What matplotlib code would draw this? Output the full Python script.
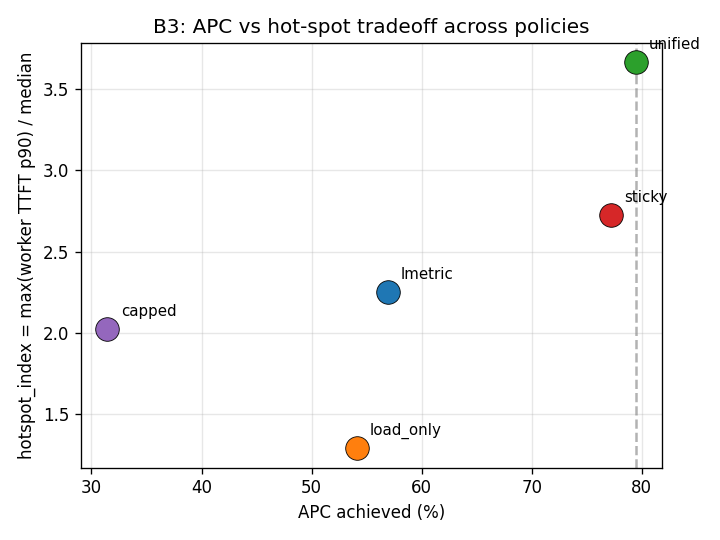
import matplotlib
matplotlib.use("Agg")
import matplotlib.pyplot as plt

policies = ["lmetric", "load_only", "unified", "sticky", "capped"]
apc = [56.9, 54.1, 79.45, 77.2, 31.45]
hotspot = [2.25, 1.29, 3.665, 2.725, 2.023]
colors = ["tab:blue", "tab:orange", "tab:green", "tab:red", "tab:purple"]

fig, ax = plt.subplots(figsize=(6, 4.5), dpi=120)
for name, x, y, c in zip(policies, apc, hotspot, colors):
    ax.scatter(x, y, s=200, color=c, edgecolor="black", linewidth=0.5, zorder=3)
    ax.annotate(name, (x, y), xytext=(8, 8), textcoords="offset points",
                fontsize=9, annotation_clip=False)

# best APC reference
ax.axvline(apc[policies.index("unified")], color="gray", linestyle="--", alpha=0.6)

ax.set_xlabel("APC achieved (%)")
ax.set_ylabel("hotspot_index = max(worker TTFT p90) / median")
ax.set_title("B3: APC vs hot-spot tradeoff across policies")
ax.grid(True, alpha=0.3)
fig.tight_layout()
fig.savefig("out.png")
